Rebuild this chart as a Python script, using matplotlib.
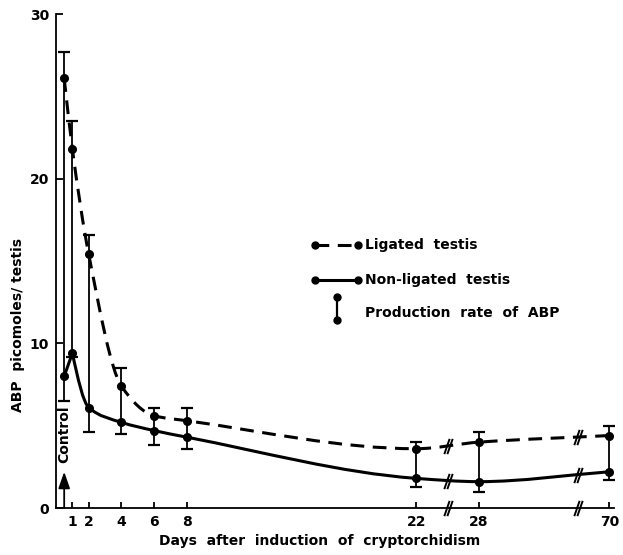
import numpy as np
import matplotlib
matplotlib.use("Agg")
import matplotlib.pyplot as plt
from matplotlib.path import Path
from matplotlib.patches import PathPatch
from matplotlib.lines import Line2D

plt.rcParams['font.family'] = ['DejaVu Sans']
plt.rcParams['font.weight'] = 'bold'

# ---- data (days after induction; the first entry is the control group) ----
days = [0.5, 1, 2, 4, 6, 8, 22, 28, 70]
ligated = [26.1, 21.8, 15.4, 7.4, 5.6, 5.3, 3.6, 4.0, 4.4]
ligated_upper = [27.7, 23.5, 16.6, 8.5, 6.1, 6.1, 4.0, 4.6, 5.0]
nonligated = [8.0, 9.4, 6.1, 5.2, 4.7, 4.3, 1.8, 1.6, 2.2]
nonligated_lower = [6.5, 9.2, 4.6, 4.5, 3.8, 3.6, 1.3, 1.0, 1.7]
tick_days = [1, 2, 4, 6, 8, 22, 28, 70]
break_days = [25, 60]

# ---- broken day axis: linear to day 22, then compressed pieces ----
knots_in = np.array([-100.0, 0.0, 22.0, 28.0, 70.0, 400.0])
knots_out = np.array([-100.0, 0.0, 22.0, 25.84, 33.80, 33.80 + 330 * 7.96 / 42])


def fwd(x):
    return np.interp(x, knots_in, knots_out)


def inv(u):
    return np.interp(u, knots_out, knots_in)


def hermite_tangents(u, y, cusp=()):
    """Monotone (PCHIP-like) tangents, returned as (left, right) slopes per knot."""
    u = np.asarray(u, float)
    y = np.asarray(y, float)
    h = np.diff(u)
    d = np.diff(y) / h
    n = len(u)
    left = np.zeros(n)
    right = np.zeros(n)
    for i in range(n):
        if i == 0:
            left[i] = right[i] = d[0]
        elif i == n - 1:
            left[i] = right[i] = d[-1]
        elif i in cusp:
            left[i] = d[i - 1]
            right[i] = d[i] * 1.4
        else:
            if d[i - 1] * d[i] <= 0:
                m = 0.0
            else:
                w1 = 2 * h[i] + h[i - 1]
                w2 = h[i] + 2 * h[i - 1]
                m = (w1 + w2) / (w1 / d[i - 1] + w2 / d[i])
            left[i] = right[i] = m
    return left, right


def smooth_path(x, y, cusp=()):
    u = fwd(np.asarray(x, float))
    y = np.asarray(y, float)
    left, right = hermite_tangents(u, y, cusp)
    verts = [(x[0], y[0])]
    codes = [Path.MOVETO]
    for i in range(len(u) - 1):
        h = u[i + 1] - u[i]
        c1 = (inv(u[i] + h / 3), y[i] + right[i] * h / 3)
        c2 = (inv(u[i + 1] - h / 3), y[i + 1] - left[i + 1] * h / 3)
        verts += [c1, c2, (x[i + 1], y[i + 1])]
        codes += [Path.CURVE4] * 3
    return Path(verts, codes), (u, y, left, right)


def curve_value(x0, params):
    u, y, left, right = params
    t0 = fwd(x0)
    i = np.searchsorted(u, t0) - 1
    h = u[i + 1] - u[i]
    s = (t0 - u[i]) / h
    h00 = 2 * s**3 - 3 * s**2 + 1
    h10 = s**3 - 2 * s**2 + s
    h01 = -2 * s**3 + 3 * s**2
    h11 = s**3 - s**2
    return h00 * y[i] + h10 * h * right[i] + h01 * y[i + 1] + h11 * h * left[i + 1]


fig = plt.figure(figsize=(6.23, 5.55), dpi=100)
ax = fig.add_axes([56 / 623, 1 - 508 / 555, 558 / 623, 494 / 555])
ax.set_xscale('function', functions=(fwd, inv))
ax.set_xlim(0, 71.5)
ax.set_ylim(0, 30)

lw_curve = 2.2
dash_style = (0, (4.5, 2.8))
fs = 10

# ---- curves ----
lig_path, lig_params = smooth_path(days, ligated)
non_path, non_params = smooth_path(days, nonligated, cusp=(1,))
ax.add_patch(PathPatch(lig_path, fill=False, lw=lw_curve, ls=dash_style,
                       color='black', capstyle='butt', zorder=3))
ax.add_patch(PathPatch(non_path, fill=False, lw=lw_curve, color='black',
                       capstyle='round', zorder=3))

# ---- production-rate bars with SEM caps ----
ax.vlines(days, nonligated_lower, ligated_upper, color='black', lw=1.3, zorder=2)
ax.plot(days, ligated_upper, ls='none', marker='_', ms=8, mew=1.6, color='black')
ax.plot(days, nonligated_lower, ls='none', marker='_', ms=8, mew=1.6, color='black')

# ---- data points ----
ax.plot(days, ligated, ls='none', marker='o', ms=5.5, color='black', zorder=4)
ax.plot(days, nonligated, ls='none', marker='o', ms=5.5, color='black', zorder=4)

# ---- axis-break marks ----
slash = Path([(-2.2, -4), (0.6, 4), (-0.6, -4), (2.2, 4)],
             [Path.MOVETO, Path.LINETO, Path.MOVETO, Path.LINETO])
for bd in break_days:
    for yv in (0.0, curve_value(bd, lig_params), curve_value(bd, non_params)):
        ax.plot([bd], [yv], ls='none', marker=slash, ms=11, mew=1.4,
                color='black', fillstyle='none', clip_on=False, zorder=5)

# ---- spines & ticks ----
for side in ('top', 'right'):
    ax.spines[side].set_visible(False)
for side in ('left', 'bottom'):
    ax.spines[side].set_linewidth(1.3)
ax.set_xticks(tick_days)
ax.set_xticklabels([str(d) for d in tick_days])
ax.set_yticks([0, 10, 20, 30])
ax.tick_params(axis='both', direction='in', labelsize=fs, width=1.3)
ax.tick_params(axis='y', length=5, pad=5)
ax.tick_params(axis='x', length=4, pad=5)
for lab in ax.get_xticklabels() + ax.get_yticklabels():
    lab.set_fontweight('bold')

ax.set_xlabel('Days  after  induction  of  cryptorchidism', fontsize=fs,
              fontweight='bold')
ax.xaxis.set_label_coords((320 - 56) / 558, (508 - 534) / 494)
ax.set_ylabel('ABP  picomoles/ testis', fontsize=fs, fontweight='bold')
ax.yaxis.set_label_coords((25 - 56) / 558, (508 - 325) / 494)

# ---- control marker ----
ax.annotate('', xy=(0.5, 2.2), xytext=(0.5, 0.0),
            arrowprops=dict(arrowstyle='-|>,head_length=1.0,head_width=0.35',
                            color='black', lw=1.3, shrinkA=0, shrinkB=0))
ax.text(0.5, 4.5, 'Control', rotation=90, ha='center', va='center',
        fontsize=fs, fontweight='bold')

# ---- legend (drawn in axes coordinates) ----
tr = ax.transAxes
lx0, lx1, tx = 0.464, 0.541, 0.554
ax.add_line(Line2D([lx0, lx1], [0.532, 0.532], transform=tr, color='black',
                   lw=lw_curve, ls=dash_style))
ax.add_line(Line2D([lx0, lx1], [0.532, 0.532], transform=tr, color='black',
                   ls='none', marker='o', ms=5))
ax.add_line(Line2D([lx0, lx1], [0.4615, 0.4615], transform=tr, color='black',
                   lw=lw_curve, marker='o', ms=5))
ax.add_line(Line2D([0.5036, 0.5036], [0.427, 0.381], transform=tr, color='black',
                   lw=1.6, marker='o', ms=5))
ax.text(tx, 0.532, 'Ligated  testis', transform=tr, va='center', fontsize=fs,
        fontweight='bold')
ax.text(tx, 0.4615, 'Non-ligated  testis', transform=tr, va='center',
        fontsize=fs, fontweight='bold')
ax.text(tx, 0.395, 'Production  rate  of  ABP', transform=tr, va='center',
        fontsize=fs, fontweight='bold')

fig.savefig('out.png', dpi=100)
